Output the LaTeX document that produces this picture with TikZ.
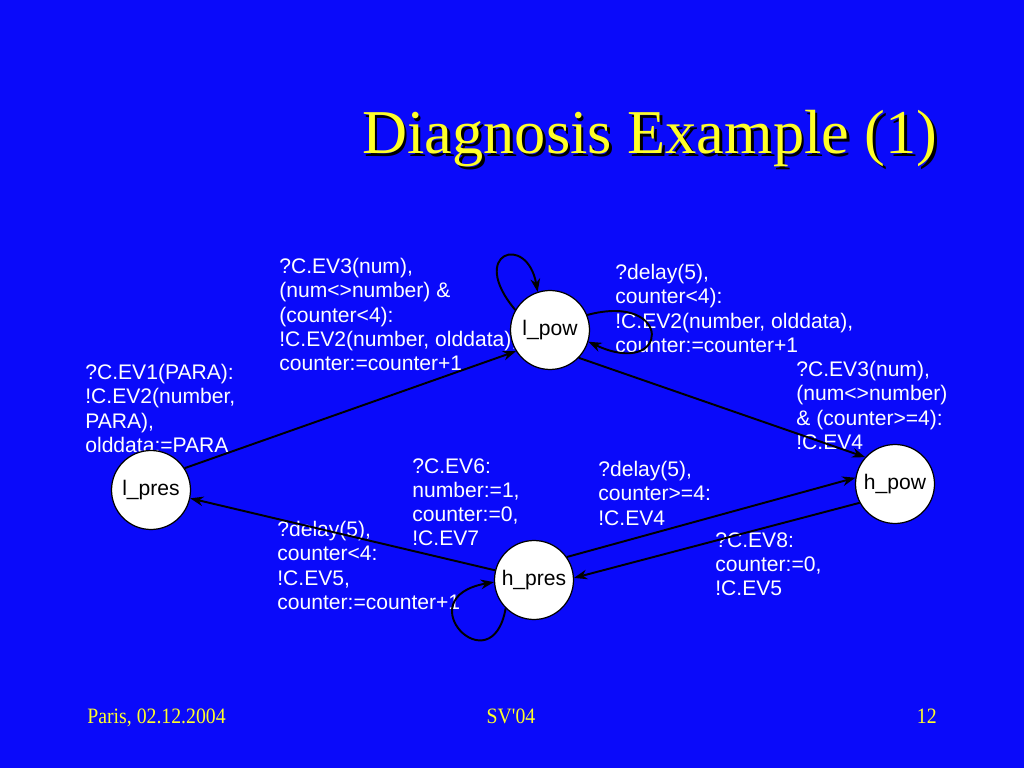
\documentclass[tikz,border=0pt]{standalone}
\usepackage{fontspec}
\setmainfont{Liberation Serif}
\setsansfont{Liberation Sans}
\usetikzlibrary{arrows.meta}
\definecolor{slideblue}{RGB}{10,10,250}
\definecolor{titleyellow}{RGB}{255,255,40}
\tikzset{
        state/.style={circle, draw=black, fill=white, line width=0.7pt, minimum size=1.58cm, inner sep=0pt, font=\sffamily\fontsize{12}{14}\selectfont},
        guard/.style={text=white, anchor=north west, inner sep=0pt, align=left, font=\sffamily\fontsize{12}{13.8}\selectfont},
        trans/.style={-{Stealth[length=7.5pt, width=5.5pt]}, line width=1.1pt},
        heading/.style={anchor=base, font=\fontsize{35.5}{40}\selectfont},
        footer/.style={text=titleyellow, inner sep=0pt, font=\fontsize{12.5}{14}\selectfont}
          }

\begin{document}
\begin{tikzpicture}[x=0.02cm, y=0.02cm]
        \fill[slideblue] (0,0) rectangle (1024,768);
        \useasboundingbox (0,0) rectangle (1024,768);
        \node[heading, text=black] (titleshadow) at (652.5,611.5) {Diagnosis Example (1)};
        \node[heading, text=titleyellow] (title) at (650,614) {Diagnosis Example (1)};

        \node[guard] (gselfpow) at (279,510) {?C.EV3(num),\\(num<>number) \&\\(counter<4):\\!C.EV2(number, olddata),\\counter:=counter+1};
        \node[guard] (gpres) at (85,404) {?C.EV1(PARA):\\!C.EV2(number,\\PARA),\\olddata:=PARA};
        \node[guard] (gloopright) at (615,504) {?delay(5),\\counter<4):\\!C.EV2(number, olddata),\\counter:=counter+1};
        \node[guard] (gpow) at (796,407) {?C.EV3(num),\\(num<>number)\\\& (counter>=4):\\!C.EV4};
        \node[guard] (gev6) at (412,310) {?C.EV6:\\number:=1,\\counter:=0,\\!C.EV7};
        \node[guard] (gdelayhigh) at (598,307) {?delay(5),\\counter>=4:\\!C.EV4};
        \node[guard] (gdelaylow) at (277,247) {?delay(5),\\counter<4:\\!C.EV5,\\counter:=counter+1};
        \node[guard] (gev8) at (715,236) {?C.EV8:\\counter:=0,\\!C.EV5};

        \node[state] (lpow) at (550,438) {l\_pow};
        \node[state] (lpres) at (151,278) {l\_pres};
        \node[state] (hpres) at (534,188) {h\_pres};
        \node[state] (hpow) at (895,284) {h\_pow};

        \draw[trans] (lpres.33) -- (lpow.212);
        \draw[trans] (lpow.150) .. controls +(130:75) and +(100:60) .. (lpow.108);
        \draw[trans] (lpow.22) .. controls +(15:90) and +(-25:90) .. (lpow.-17);
        \draw[trans] (lpow.-44) -- (hpow.138);
        \draw[trans] (hpres.35) -- (hpow.171);
        \draw[trans] (hpow.208) -- (hpres.3);
        \draw[trans] (hpres.166) -- (lpres.-12);
        \draw[trans] (hpres.225) .. controls +(260:80) and +(190:90) .. (hpres.183);

        \node[footer, anchor=base west] (fplace) at (87,45) {\scalebox{0.9}[1]{Paris, 02.12.2004}};
        \node[footer, anchor=base] (fconf) at (511,45) {\scalebox{0.9}[1]{SV\textquotesingle 04}};
        \node[footer, anchor=base east] (fpage) at (937,45) {\scalebox{0.9}[1]{12}};
\end{tikzpicture}
\end{document}
